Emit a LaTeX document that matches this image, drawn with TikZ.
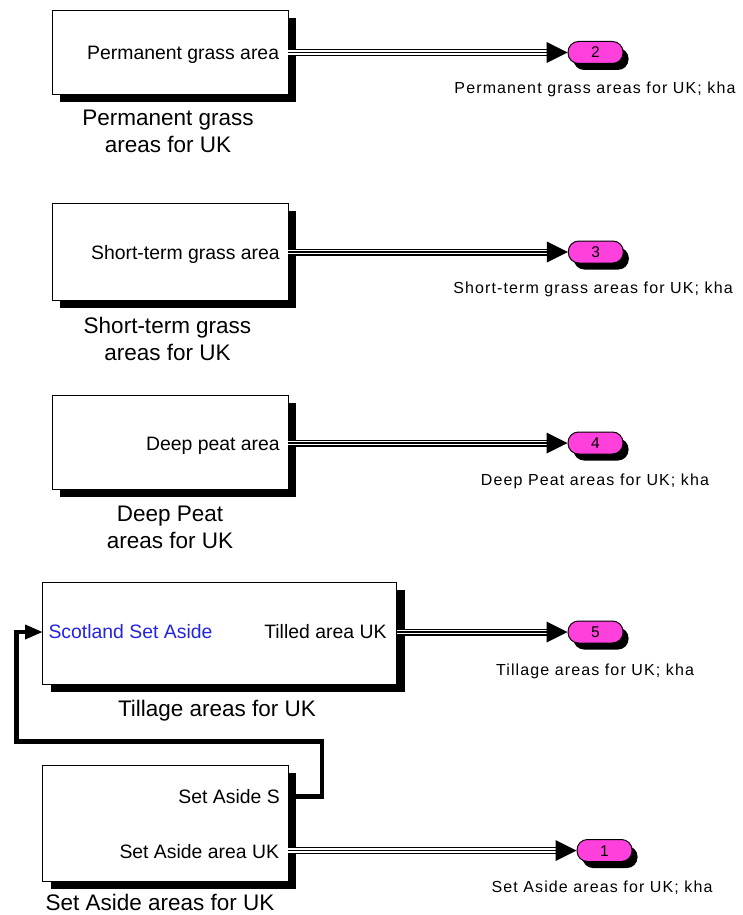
\documentclass[tikz,border=0pt]{standalone}
\usepackage{fontspec}
\setmainfont{Liberation Sans}
\newfontfamily\labelfamily[LetterSpace=7]{Liberation Sans}
\usetikzlibrary{arrows.meta,shadows}

\definecolor{portpink}{RGB}{255,64,221}
\definecolor{inblue}{RGB}{35,35,225}

\newcommand\porttxt{\fontsize{19.4}{23}\selectfont}
\newcommand\captxt{\fontsize{22.5}{27}\selectfont}
\newcommand\lbltxt{\labelfamily\fontsize{16}{19}\selectfont}
\newcommand\numtxt{\fontsize{15.5}{18}\selectfont}

\tikzset{
  block/.style={draw=black, line width=1pt, fill=white, inner sep=0pt,
    drop shadow={shadow xshift=8pt, shadow yshift=-7.5pt, fill=black, opacity=1}},
  porttext/.style={font=\porttxt, inner sep=0pt, text height=13.9pt, text depth=0pt},
  caption/.style={font=\captxt, align=center, inner sep=0pt, anchor=north},
  outport/.style={draw=black, line width=1pt, fill=portpink, minimum width=55pt,
    minimum height=22pt, rounded corners=10.5pt, inner sep=0pt, font=\numtxt,
    text height=11pt, text depth=0pt,
    drop shadow={shadow xshift=5.5pt, shadow yshift=-6.5pt, fill=black, opacity=1}},
  outlabel/.style={font=\lbltxt, inner sep=0pt, anchor=base},
  bus/.style={line width=1.4pt, -{Triangle[length=21pt,width=21pt,line width=0pt]},
    preaction={draw, -, line width=7pt, shorten >=20pt},
    preaction={draw, -, white, line width=4.2pt, shorten >=20pt}},
  feedback/.style={line width=4.5pt, -{Triangle[length=17pt,width=15pt,line width=0pt]}},
}

\begin{document}
\begin{tikzpicture}[x=1pt, y=-1pt]
\fill[white] (0,0) rectangle (742,915);
\useasboundingbox (0,0) rectangle (742,915);

% ---- Permanent grass ----
\node[block, minimum width=236pt, minimum height=83.3pt] (b1) at (170.3,52.65) {};
\node[porttext, anchor=east] (t1) at (279.3,52.3) {Permanent grass area};
\node[caption] (c1) at (168,110.3) {Permanent grass\\areas for UK};
\coordinate (p1) at (288.3,52.5);
\node[outport] (o2) at (595.5,52.5) {2};
\node[outlabel] (l2) at (595,94) {Permanent grass areas for UK; kha};
\draw[bus] (p1) -- (o2.west);

% ---- Short-term grass ----
\node[block, minimum width=236pt, minimum height=96.7pt] (b2) at (170.3,251.65) {};
\node[porttext, anchor=east] (t2) at (280,252.3) {Short-term grass area};
\node[caption] (c2) at (167.5,317) {Short-term grass\\areas for UK};
\coordinate (p2) at (288.3,252);
\node[outport] (o3) at (595.8,252) {3};
\node[outlabel] (l3) at (593,293.3) {Short-term grass areas for UK; kha};
\draw[bus] (p2) -- (o3.west);

% ---- Deep peat ----
\node[block, minimum width=236pt, minimum height=93.3pt] (b3) at (170.3,442.35) {};
\node[porttext, anchor=east] (t3) at (280,443.5) {Deep peat area};
\node[caption] (c3) at (170,506) {Deep Peat\\areas for UK};
\coordinate (p3) at (288.3,443);
\node[outport] (o4) at (595.5,443) {4};
\node[outlabel] (l4) at (595,485.7) {Deep Peat areas for UK; kha};
\draw[bus] (p3) -- (o4.west);

% ---- Tillage ----
\node[block, minimum width=354pt, minimum height=102pt] (b4) at (219.7,633.3) {};
\node[porttext, anchor=east] (t4) at (386.7,632) {Tilled area UK};
\node[porttext, anchor=west, text=inblue] (s4) at (48.3,632) {Scotland Set Aside};
\node[caption] (c4) at (217,700.4) {Tillage areas for UK};
\coordinate (p4) at (396.7,632);
\coordinate (q4) at (42.2,632);
\node[outport] (o5) at (595.5,632) {5};
\node[outlabel] (l5) at (595,675) {Tillage areas for UK; kha};
\draw[bus] (p4) -- (o5.west);

% ---- Set aside ----
\node[block, minimum width=245.6pt, minimum height=116.7pt] (b5) at (165.5,823.35) {};
\node[porttext, anchor=east] (t5s) at (280,796.7) {Set Aside S};
\node[porttext, anchor=east] (t5) at (279.3,851.7) {Set Aside area UK};
\node[caption] (c5) at (160,893.7) {Set Aside areas for UK};
\coordinate (p5s) at (288.3,796.7);
\coordinate (p5) at (288.3,850.5);
\node[outport] (o1) at (604.5,850.5) {1};
\node[outlabel] (l1) at (602,892.7) {Set Aside areas for UK; kha};
\draw[bus] (p5) -- (o1.west);

% ---- feedback from Set Aside S into the tillage block ----
\coordinate (k1) at (322,741.7);
\coordinate (k2) at (16.5,741.7);
\draw[feedback] (p5s) -| (k1) -- (k2) |- (q4);
\end{tikzpicture}
\end{document}
